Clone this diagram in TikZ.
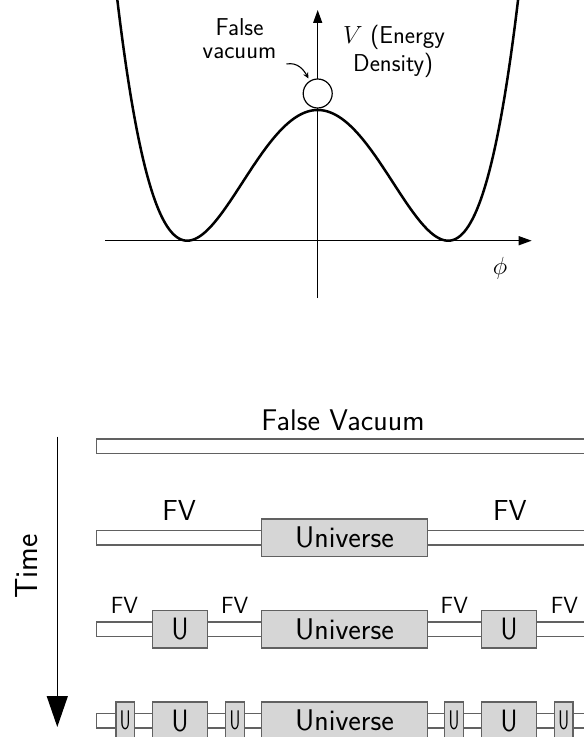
\documentclass[tikz,border=0pt]{standalone}
\usetikzlibrary{arrows.meta}
\definecolor{boxgray}{gray}{0.84}
\definecolor{edgegray}{gray}{0.38}
\begin{document}
\begin{tikzpicture}[x=1bp,y=-1bp]
\tikzset{
  curveline/.style={line width=2.5bp, line join=round},
  axisline/.style={line width=1.3bp, -{Triangle[width=9bp,length=13bp]}},
  toptext/.style={font=\sffamily\fontsize{24.5}{23.5}\selectfont, inner sep=0},
  bar/.style={rectangle, draw=edgegray, fill=white, line width=1.2bp, minimum height=14.5bp, minimum width=495.6bp, inner sep=0},
  ubox/.style={rectangle, draw=edgegray, fill=boxgray, line width=1.2bp, minimum height=37.5bp, inner sep=0},
  unibox/.style={ubox, minimum width=165.6bp, font=\sffamily\fontsize{30}{36}\selectfont},
  bigu/.style={ubox, minimum width=55.4bp, font=\sffamily\fontsize{31}{36}\selectfont},
  smallu/.style={ubox, minimum width=18.5bp, font=\sffamily\fontsize{27}{32}\selectfont},
  fvbig/.style={anchor=base, inner sep=0, font=\sffamily\fontsize{29}{34}\selectfont},
  fvsmall/.style={anchor=base, inner sep=0, font=\sffamily\fontsize{23.5}{28}\selectfont},
}
\useasboundingbox (0,0) rectangle (584,737);
\clip (0,0) rectangle (584,737);

% ---------- potential plot ----------
\coordinate (xl) at (105,240.7);
\coordinate (xr) at (531.7,240.7);
\coordinate (yb) at (317.7,298);
\coordinate (yt) at (317.7,10);
\draw[axisline] (xl) -- (xr);
\draw[axisline] (yb) -- (yt);
\draw[curveline] plot[domain=-201:201, samples=201, smooth]
  ({317.7+\x},{240.7-130.7*((\x/130.5)^2-1)^2});
\node[circle, draw, line width=1.2bp, fill=white, minimum size=29bp, inner sep=0] (fvball) at (317.7,93.5) {};

\node[toptext, anchor=base west] (vlab) at (343,43.3) {$V$ (Energy};
\node[toptext, anchor=base west] (dlab) at (353,71.7) {Density)};
\node[toptext, anchor=base, align=center] (fvlab) at (239.5,58.5) {False\\vacuum};
\node[toptext, anchor=base] (philab) at (500,274) {$\phi$};
\coordinate (fvtail) at (286.5,64);
\coordinate (fvtip) at (308.5,78.5);
\draw[line width=1.1bp, -{Stealth[length=6bp,width=5.5bp]}]
  (fvtail) .. controls +(11,-2) and +(-5,-9) .. (fvtip);

% ---------- time axis ----------
\coordinate (ttop) at (57.3,436.7);
\coordinate (tbot) at (57.3,727);
\draw[line width=1.3bp, -{Triangle[width=21bp,length=31bp]}] (ttop) -- (tbot);
\node[rotate=90, inner sep=0, font=\sffamily\fontsize{32}{38}\selectfont] (timelab) at (26.5,566.5) {Time};

% ---------- row 1 ----------
\node[bar] (bar1) at (344.5,446.3) {};
\node[anchor=base, inner sep=0, font=\sffamily\fontsize{30}{36}\selectfont] (fvtitle) at (343,430.7) {False Vacuum};

% ---------- row 2 ----------
\node[bar] (bar2) at (344.5,537.8) {};
\node[unibox] (uni2) at (344.5,537.8) {Universe};
\node[fvbig] (fv2a) at (179.2,520.7) {FV};
\node[fvbig] (fv2b) at (509.8,520.7) {FV};

% ---------- row 3 ----------
\node[bar] (bar3) at (344.5,629.3) {};
\node[unibox] (uni3) at (344.5,629.3) {Universe};
\node[bigu] (u3a) at (180,629.3) {\scalebox{0.85}[1]{U}};
\node[bigu] (u3b) at (509,629.3) {\scalebox{0.85}[1]{U}};
\node[fvsmall] (fv3a) at (124.5,613.8) {FV};
\node[fvsmall] (fv3b) at (234.7,613.8) {FV};
\node[fvsmall] (fv3c) at (454.3,613.8) {FV};
\node[fvsmall] (fv3d) at (564.5,613.8) {FV};

% ---------- row 4 ----------
\node[bar] (bar4) at (344.5,720.8) {};
\node[unibox] (uni4) at (344.5,720.8) {Universe};
\node[bigu] (u4a) at (180,720.8) {\scalebox{0.85}[1]{U}};
\node[bigu] (u4b) at (509,720.8) {\scalebox{0.85}[1]{U}};
\node[smallu] (u4c) at (125.2,720.8) {\scalebox{0.62}[1]{U}};
\node[smallu] (u4d) at (235,720.8) {\scalebox{0.62}[1]{U}};
\node[smallu] (u4e) at (454,720.8) {\scalebox{0.62}[1]{U}};
\node[smallu] (u4f) at (563.8,720.8) {\scalebox{0.62}[1]{U}};
\end{tikzpicture}
\end{document}
